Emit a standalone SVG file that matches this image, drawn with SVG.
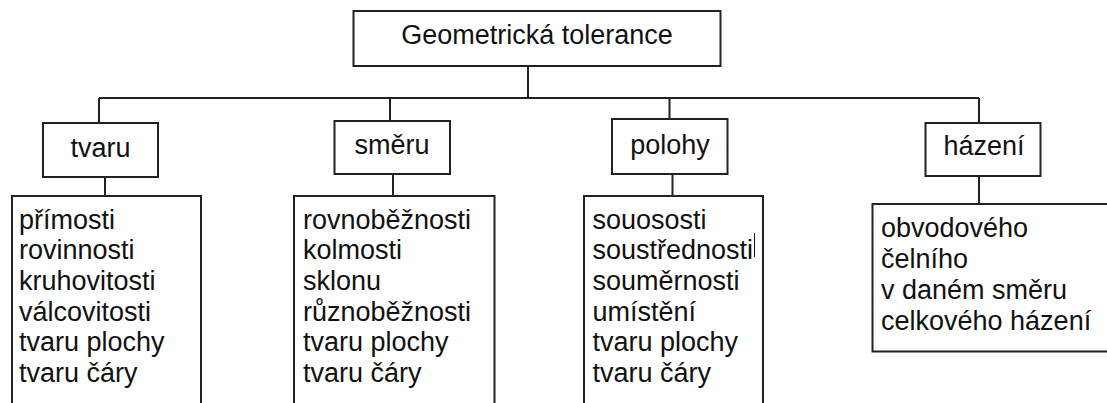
<svg xmlns="http://www.w3.org/2000/svg" width="1107" height="403" viewBox="0 0 1107 403">
<style>
  .box{fill:#fff;stroke:#222;stroke-width:2}
  .ln{fill:none;stroke:#222;stroke-width:2}
  text{font-family:"Liberation Sans",Arial,sans-serif;font-size:27px;fill:#111}
  .c{text-anchor:middle}
</style>
<rect width="1107" height="403" fill="#fff"/>
<g id="connectors">
  <path class="ln" d="M528 66 V98 M99 98 H979 M99 98 V123 M390 98 V121 M669.5 98 V119 M979 98 V123"/>
  <path class="ln" d="M105 177 V196 M393 174 V196 M672.5 174 V196 M979 176 V204"/>
</g>
<g id="root">
  <rect class="box" x="353.5" y="11" width="367" height="55"/>
  <text class="c" x="537" y="44">Geometrická tolerance</text>
</g>
<g id="tvaru">
  <rect class="box" x="43" y="123" width="115" height="54"/>
  <text class="c" x="100.5" y="157">tvaru</text>
</g>
<g id="smeru">
  <rect class="box" x="334.5" y="121" width="115.5" height="53"/>
  <text class="c" x="392" y="153.5">směru</text>
</g>
<g id="polohy">
  <rect class="box" x="612" y="119" width="115.5" height="55"/>
  <text class="c" x="670" y="153.5">polohy</text>
</g>
<g id="hazeni">
  <rect class="box" x="925.5" y="123" width="115" height="53"/>
  <text class="c" x="984" y="155">házení</text>
</g>
<g id="list-tvaru">
  <rect class="box" x="12" y="196" width="189" height="220"/>
  <text x="19" y="228.5">přímosti</text>
  <text x="19" y="259.2">rovinnosti</text>
  <text x="19" y="289.9">kruhovitosti</text>
  <text x="19" y="320.6">válcovitosti</text>
  <text x="19" y="351.3">tvaru plochy</text>
  <text x="19" y="382">tvaru čáry</text>
</g>
<g id="list-smeru">
  <rect class="box" x="294" y="196" width="200.5" height="220"/>
  <text x="303" y="228.5">rovnoběžnosti</text>
  <text x="303" y="259.2">kolmosti</text>
  <text x="303" y="289.9">sklonu</text>
  <text x="303" y="320.6">různoběžnosti</text>
  <text x="303" y="351.3">tvaru plochy</text>
  <text x="303" y="382">tvaru čáry</text>
</g>
<g id="list-polohy">
  <rect class="box" x="584" y="196" width="179" height="220"/>
  <text x="592.5" y="228.5">souososti</text>
  <text x="592.5" y="259.2">soustřednosti</text>
  <line x1="754.5" y1="233" x2="754.5" y2="257" stroke="#111" stroke-width="1"/>
  <text x="592.5" y="289.9">souměrnosti</text>
  <text x="592.5" y="320.6">umístění</text>
  <text x="592.5" y="351.3">tvaru plochy</text>
  <text x="592.5" y="382">tvaru čáry</text>
</g>
<g id="list-hazeni">
  <rect class="box" x="872.5" y="204" width="240" height="147.5"/>
  <text x="881" y="237">obvodového</text>
  <text x="881" y="268">čelního</text>
  <text x="881" y="299">v daném směru</text>
  <text x="881" y="330">celkového házení</text>
</g>
</svg>
